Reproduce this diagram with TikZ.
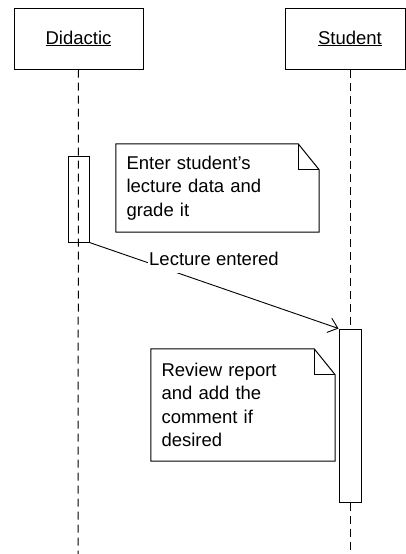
\documentclass[tikz,border=0pt]{standalone}
\usepackage{fontspec}
\setmainfont{Liberation Sans}
\usetikzlibrary{arrows.meta}

\tikzset{
  actor/.style={draw,line width=1pt,minimum height=61pt,inner sep=0pt},
  lifeline/.style={line width=1pt,dash pattern=on 8pt off 5pt},
  activation/.style={draw,line width=1pt,minimum width=21pt,inner sep=0pt},
  note/.style={inner xsep=10.5pt,inner ysep=0pt,align=left},
  noteline/.style={line width=1pt},
}

\begin{document}
\begin{tikzpicture}[x=1pt,y=-1pt,>={Straight Barb[length=9pt,width=15pt]},
    font=\fontsize{18.5}{23.5}\selectfont]
\useasboundingbox (0,0) rectangle (406,554);
% actors
\node[actor,minimum width=129pt] (didactic) at (78.5,38.5) {\underline{Didactic}};
\node[actor,minimum width=120pt] (student) at (345,38.5) {\hspace*{10pt}\underline{Student}};
\coordinate (didend) at (78,554);
\coordinate (studend) at (350,554);
% activations
\node[activation,minimum height=86pt] (didact) at (78.5,199) {};
\node[activation,fill=white,minimum width=22pt,minimum height=173pt] (studact) at (350,415.5) {};
% lifelines
\draw[lifeline] (didactic.south) -- (didend);
\draw[lifeline] ([xshift=5pt]student.south) -- (studact.north);
\draw[lifeline] (studact.south) -- (studend);
% message
\draw[line width=0.9pt,->] (didact.south east) -- (studact.north west);
\node[fill=white,inner sep=1pt,text depth=7pt,anchor=base west] (msg) at (148,265) {Lecture entered};
% notes
\node[note,text width=182pt,minimum height=88pt] (note1) at (217.5,188)
  {Enter student's\\lecture data and\\grade it};
\draw[noteline] (note1.north west) -- ([xshift=-21pt]note1.north east)
  -- ([yshift=-26pt]note1.north east) -- (note1.south east) -- (note1.south west) -- cycle;
\draw[noteline] ([xshift=-21pt]note1.north east) |- ([yshift=-26pt]note1.north east);
\node[note,text width=163pt,minimum height=112pt] (note2) at (243,405)
  {Review report\\and add the\\comment if\\desired};
\draw[noteline] (note2.north west) -- ([xshift=-21pt]note2.north east)
  -- ([yshift=-26pt]note2.north east) -- (note2.south east) -- (note2.south west) -- cycle;
\draw[noteline] ([xshift=-21pt]note2.north east) |- ([yshift=-26pt]note2.north east);
\end{tikzpicture}
\end{document}
